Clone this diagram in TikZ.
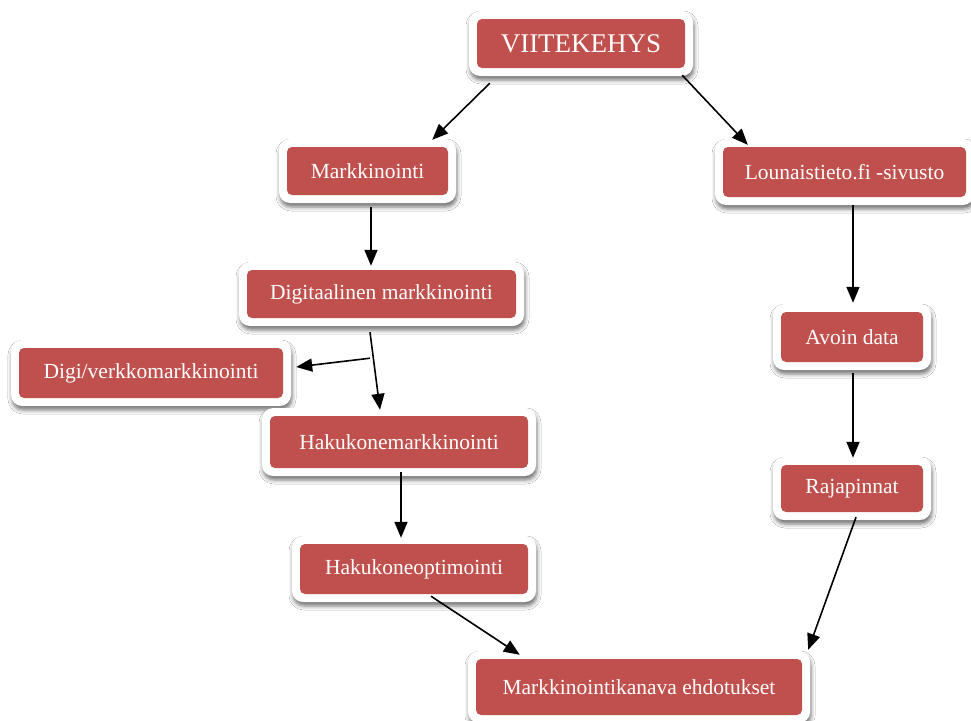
\documentclass[tikz,border=0pt]{standalone}
\usepackage{fontspec}
\setmainfont{Liberation Serif}
\usetikzlibrary{arrows.meta,shadows.blur}
\definecolor{boxred}{HTML}{C0504D}
\tikzset{
  frame/.style={fill=white, draw=none, rounded corners=11pt, inner sep=0pt,
    blur shadow={shadow xshift=1pt, shadow yshift=-4pt, shadow blur radius=4pt, shadow opacity=55}},
  box/.style={fill=boxred, draw=none, rounded corners=5pt, text=white, inner sep=0pt,
    font=\fontsize{21.5}{25}\selectfont},
  conn/.style={line width=1.6pt, -{Triangle[length=16pt,width=13pt]}}
}
\newcommand\bx[7][]{%
  \node[frame, minimum width=#5pt+16pt, minimum height=#6pt+16pt] (#2f) at (#3,#4) {};
  \node[box, minimum width=#5pt, minimum height=#6pt, #1] (#2) at (#3,#4) {#7};}
\begin{document}
\begin{tikzpicture}[x=1pt,y=-1pt]
\useasboundingbox[fill=white] (0,0) rectangle (971,720);
\bx[font=\fontsize{27}{31}\selectfont]{v}{581}{43.5}{208}{49}{VIITEKEHYS}
\bx{m}{367.5}{171}{161}{48}{Markkinointi}
\bx{l}{844.5}{172}{243}{50}{Lounaistieto.fi -sivusto}
\bx{d}{381.5}{294}{269}{48}{Digitaalinen markkinointi}
\bx{dv}{151}{373}{264}{50}{Digi/verkkomarkkinointi}
\bx{a}{852}{337}{142}{50}{Avoin data}
\bx{hm}{399}{442}{258}{52}{Hakukonemarkkinointi}
\bx{r}{852}{488.5}{142}{47}{Rajapinnat}
\bx{ho}{414}{569}{228}{50}{Hakukoneoptimointi}
\bx{mk}{639}{687}{326}{56}{Markkinointikanava ehdotukset}
\draw[conn] ([shift={(13,15)}]v.south west) -- ([shift={(-16,-7)}]m.north east);
\draw[conn] ([shift={(-3,7)}]v.south east) -- ([shift={(25,-2)}]l.north west);
\draw[conn] ([shift={(3.5,12)}]m.south) -- ([shift={(3.5,-4)}]m.south |- d.north);
\draw[conn] ([shift={(-11.5,40)}]d.south) -- ([shift={(13,-6)}]dv.east);
\draw[conn] ([shift={(-11.5,14)}]d.south) -- ([shift={(-19,-6)}]hm.north);
\draw[conn] ([shift={(2,4)}]hm.south) -- ([shift={(2,-6)}]hm.south |- ho.north);
\draw[conn] ([shift={(8.5,8)}]l.south) -- ([shift={(8.5,-9)}]l.south |- a.north);
\draw[conn] ([shift={(1,11)}]a.south) -- ([shift={(1,-7)}]r.north);
\draw[conn] ([shift={(17,2)}]ho.south) -- ([shift={(44,-4)}]mk.north west);
\draw[conn] ([shift={(4,5)}]r.south) -- ([shift={(6,-9)}]mk.north east);
\end{tikzpicture}
\end{document}
